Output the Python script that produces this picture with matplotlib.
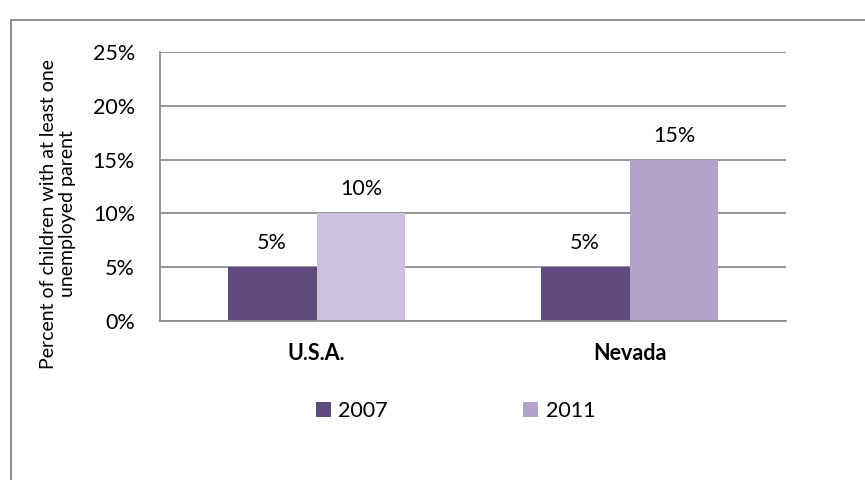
import matplotlib
matplotlib.use("Agg")
import matplotlib.pyplot as plt
from matplotlib.patches import Rectangle, Patch
import numpy as np

plt.rcParams['font.family'] = ['Lato', 'DejaVu Sans']

categories = ['U.S.A.', 'Nevada']
series_names = ['2007', '2011']
values_2007 = [5, 5]
values_2011 = [10, 15]
y_ticks = [0, 5, 10, 15, 20, 25]
y_label = 'Percent of children with at least one\nunemployed parent'

c2007 = '#604A7B'
c2011 = ['#CCC1DA', '#B3A2C7']
c2011_legend = '#B3A2C7'
grid_c = '#8C8C8C'

W, H = 865, 480
fig = plt.figure(figsize=(W / 100, H / 100), dpi=100)

# outer frame (chart area border, cut by image edges)
fig.patches.append(Rectangle((10.5 / W, -0.1), 2.0, (H - 19.5) / H + 0.1,
                             transform=fig.transFigure, fill=False,
                             edgecolor=grid_c, lw=1.4, clip_on=False))

ax = fig.add_axes([160 / W, 1 - 321 / H, (786 - 160) / W, (321 - 52) / H])
x = np.arange(len(categories))
bw = 0.284
b1 = ax.bar(x - bw / 2, values_2007, bw, color=c2007, zorder=3)
b2 = ax.bar(x + bw / 2, values_2011, bw, color=c2011, zorder=3)

for bars, vals in ((b1, values_2007), (b2, values_2011)):
    for r, v in zip(bars, vals):
        ax.annotate(f'{v}%', (r.get_x() + r.get_width() / 2, v),
                    xytext=(0, 13), textcoords='offset points',
                    ha='center', va='baseline', fontsize=15.5, color='black')

ax.set_xlim(-0.5, 1.5)
ax.set_ylim(0, 25)
ax.set_yticks(y_ticks)
ax.set_yticklabels([f'{t}%' for t in y_ticks], fontsize=15.5)
ax.set_xticks(x)
ax.set_xticklabels(categories, fontsize=15.5, fontweight='bold')
ax.tick_params(axis='y', length=0, pad=18)
ax.tick_params(axis='x', length=0, pad=16)
ax.yaxis.grid(True, color=grid_c, lw=1.3, zorder=0)
ax.set_axisbelow(True)
for s in ('top', 'right'):
    ax.spines[s].set_visible(False)
for s in ('left', 'bottom'):
    ax.spines[s].set_color(grid_c)
    ax.spines[s].set_linewidth(1.3)
    ax.spines[s].set_zorder(4)

fig.text(58 / W, 1 - 214 / H, y_label, rotation=90, ha='center', va='center',
         fontsize=14, linespacing=1.15, multialignment='center')

handles = [Patch(facecolor=c2007), Patch(facecolor=c2011_legend)]
fig.legend(handles, series_names, loc='center', ncol=2,
           bbox_to_anchor=(455.5 / W, 1 - 411 / H), frameon=False,
           fontsize=15.5, handlelength=0.7, handleheight=0.65,
           handletextpad=0.35, columnspacing=6.3, borderpad=0,
           borderaxespad=0)

fig.savefig('out.png', dpi=100)
